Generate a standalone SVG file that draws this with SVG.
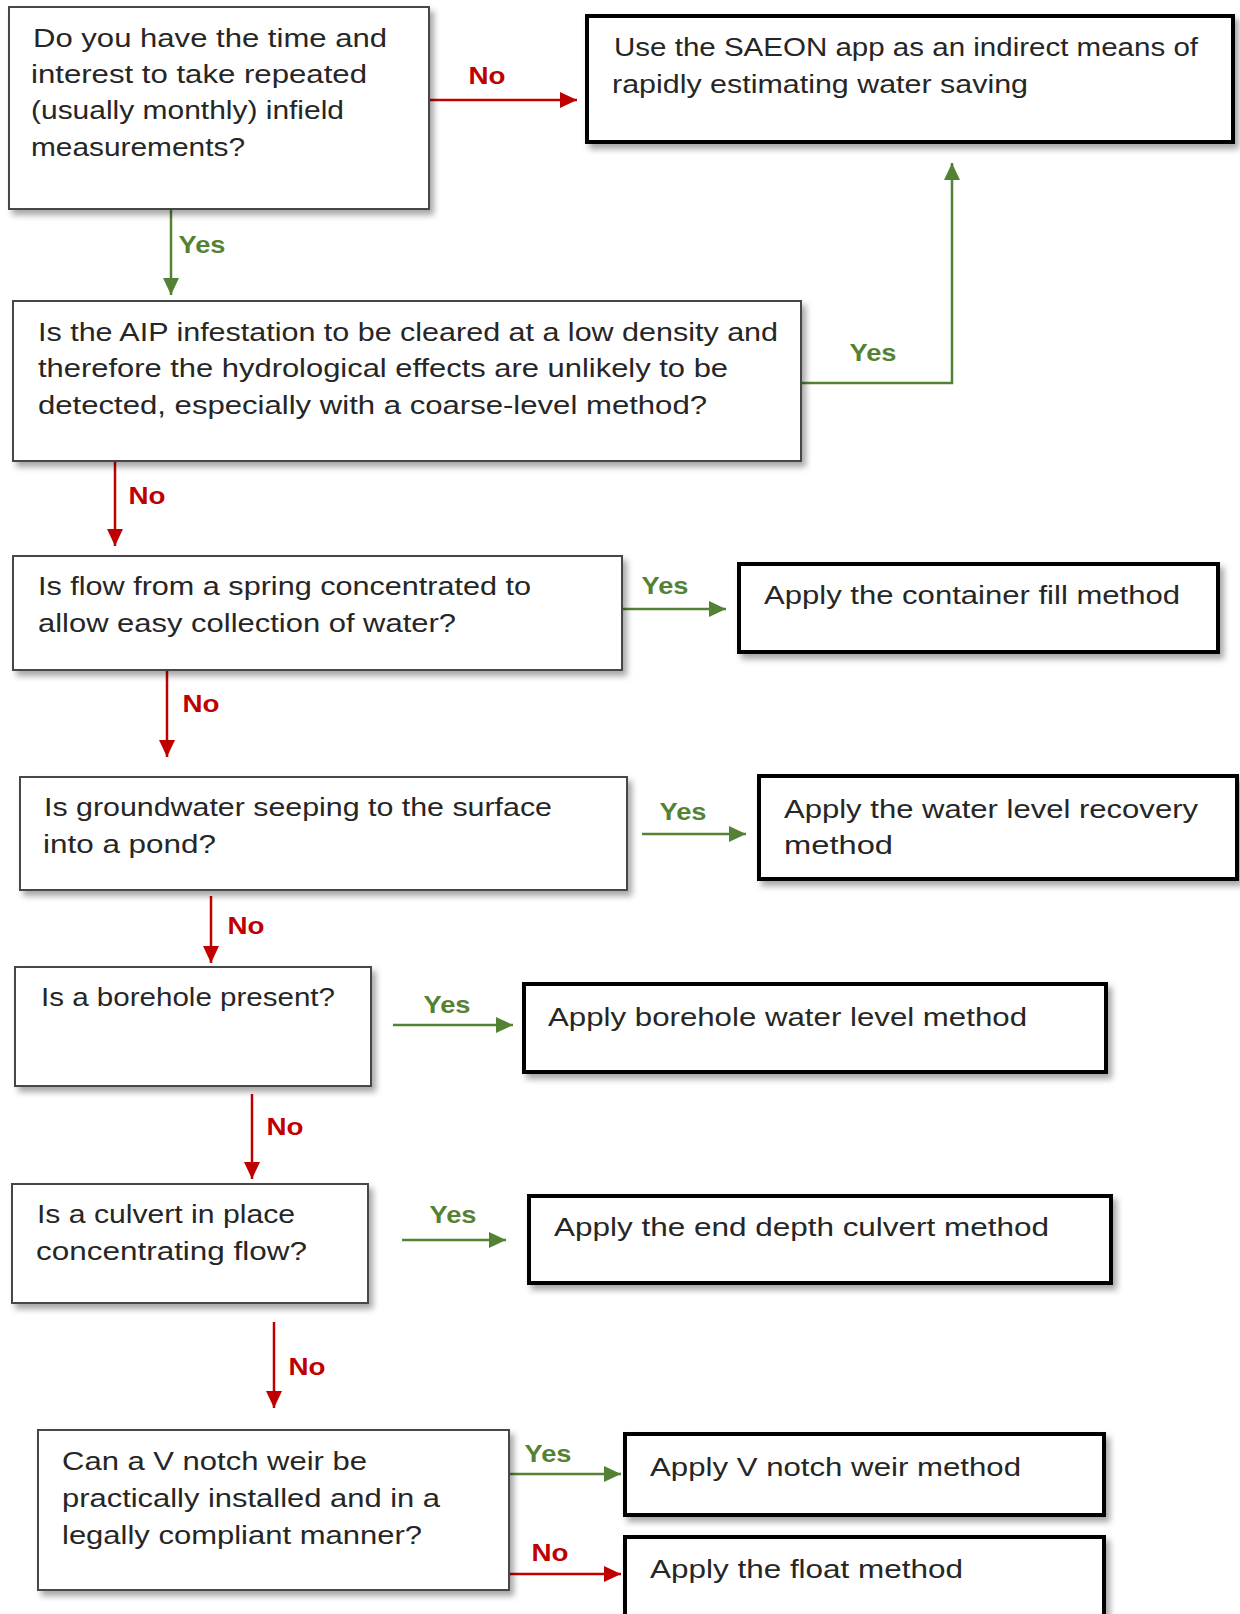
<svg xmlns="http://www.w3.org/2000/svg" width="1240" height="1614" viewBox="0 0 1240 1614">
<style>
.q{fill:#fff;stroke:#474747;stroke-width:2}
.a{fill:#fff;stroke:#000;stroke-width:4}
.t{font-family:"Liberation Sans","DejaVu Sans",sans-serif;font-size:25px;fill:#262626}
.g{stroke:#548235;stroke-width:2.5;fill:none}
.r{stroke:#C00000;stroke-width:2.5;fill:none}
.lg{font-family:"Liberation Sans","DejaVu Sans",sans-serif;font-size:24px;font-weight:bold;fill:#548235;text-anchor:middle}
.lr{font-family:"Liberation Sans","DejaVu Sans",sans-serif;font-size:24px;font-weight:bold;fill:#C00000;text-anchor:middle}
</style>
<defs>
<filter id="sh" x="-10%" y="-10%" width="130%" height="140%">
<feDropShadow dx="4" dy="5" stdDeviation="3" flood-color="#000" flood-opacity="0.35"/>
</filter>
<marker id="ag" markerUnits="userSpaceOnUse" markerWidth="18" markerHeight="16" refX="17" refY="8" orient="auto"><path d="M0,0 L17,8 L0,16 z" fill="#548235"/></marker>
<marker id="ar" markerUnits="userSpaceOnUse" markerWidth="18" markerHeight="16" refX="17" refY="8" orient="auto"><path d="M0,0 L17,8 L0,16 z" fill="#C00000"/></marker>
</defs>
<rect width="1240" height="1614" fill="#fff"/>

<g id="connectors">
<line class="r" x1="429" y1="100" x2="577" y2="100" marker-end="url(#ar)"/>
<text class="lr" x="487" y="84" textLength="37" lengthAdjust="spacingAndGlyphs">No</text>
<line class="g" x1="171" y1="209" x2="171" y2="295" marker-end="url(#ag)"/>
<text class="lg" x="202" y="253" textLength="47" lengthAdjust="spacingAndGlyphs">Yes</text>
<polyline class="g" points="801,383 952,383 952,163" marker-end="url(#ag)"/>
<text class="lg" x="873" y="361" textLength="47" lengthAdjust="spacingAndGlyphs">Yes</text>
<line class="r" x1="115" y1="461" x2="115" y2="546" marker-end="url(#ar)"/>
<text class="lr" x="147" y="504" textLength="37" lengthAdjust="spacingAndGlyphs">No</text>
<line class="g" x1="622" y1="609" x2="726" y2="609" marker-end="url(#ag)"/>
<text class="lg" x="665" y="594" textLength="47" lengthAdjust="spacingAndGlyphs">Yes</text>
<line class="r" x1="167" y1="670" x2="167" y2="757" marker-end="url(#ar)"/>
<text class="lr" x="201" y="712" textLength="37" lengthAdjust="spacingAndGlyphs">No</text>
<line class="g" x1="642" y1="834" x2="746" y2="834" marker-end="url(#ag)"/>
<text class="lg" x="683" y="820" textLength="47" lengthAdjust="spacingAndGlyphs">Yes</text>
<line class="r" x1="211" y1="896" x2="211" y2="963" marker-end="url(#ar)"/>
<text class="lr" x="246" y="934" textLength="37" lengthAdjust="spacingAndGlyphs">No</text>
<line class="g" x1="393" y1="1025" x2="513" y2="1025" marker-end="url(#ag)"/>
<text class="lg" x="447" y="1013" textLength="47" lengthAdjust="spacingAndGlyphs">Yes</text>
<line class="r" x1="252" y1="1094" x2="252" y2="1179" marker-end="url(#ar)"/>
<text class="lr" x="285" y="1135" textLength="37" lengthAdjust="spacingAndGlyphs">No</text>
<line class="g" x1="402" y1="1240" x2="506" y2="1240" marker-end="url(#ag)"/>
<text class="lg" x="453" y="1223" textLength="47" lengthAdjust="spacingAndGlyphs">Yes</text>
<line class="r" x1="274" y1="1322" x2="274" y2="1408" marker-end="url(#ar)"/>
<text class="lr" x="307" y="1375" textLength="37" lengthAdjust="spacingAndGlyphs">No</text>
<line class="g" x1="509" y1="1474" x2="621" y2="1474" marker-end="url(#ag)"/>
<text class="lg" x="548" y="1462" textLength="47" lengthAdjust="spacingAndGlyphs">Yes</text>
<line class="r" x1="509" y1="1574" x2="621" y2="1574" marker-end="url(#ar)"/>
<text class="lr" x="550" y="1561" textLength="37" lengthAdjust="spacingAndGlyphs">No</text>
</g>

<g id="q1">
<rect class="q" x="9" y="7" width="420" height="202" filter="url(#sh)"/>
<text class="t" x="33" y="47" textLength="354" lengthAdjust="spacingAndGlyphs">Do you have the time and</text>
<text class="t" x="31" y="83" textLength="336" lengthAdjust="spacingAndGlyphs">interest to take repeated</text>
<text class="t" x="31" y="119" textLength="313" lengthAdjust="spacingAndGlyphs">(usually monthly) infield</text>
<text class="t" x="31" y="156" textLength="214" lengthAdjust="spacingAndGlyphs">measurements?</text>
</g>

<g id="a1">
<rect class="a" x="587" y="16" width="646" height="126" filter="url(#sh)"/>
<text class="t" x="614" y="56" textLength="584" lengthAdjust="spacingAndGlyphs">Use the SAEON app as an indirect means of</text>
<text class="t" x="612" y="93" textLength="416" lengthAdjust="spacingAndGlyphs">rapidly estimating water saving</text>
</g>

<g id="q2">
<rect class="q" x="13" y="301" width="788" height="160" filter="url(#sh)"/>
<text class="t" x="38" y="341" textLength="740" lengthAdjust="spacingAndGlyphs">Is the AIP infestation to be cleared at a low density and</text>
<text class="t" x="38" y="377" textLength="690" lengthAdjust="spacingAndGlyphs">therefore the hydrological effects are unlikely to be</text>
<text class="t" x="38" y="414" textLength="669" lengthAdjust="spacingAndGlyphs">detected, especially with a coarse-level method?</text>
</g>

<g id="q3">
<rect class="q" x="13" y="556" width="609" height="114" filter="url(#sh)"/>
<text class="t" x="38" y="595" textLength="493" lengthAdjust="spacingAndGlyphs">Is flow from a spring concentrated to</text>
<text class="t" x="38" y="632" textLength="418" lengthAdjust="spacingAndGlyphs">allow easy collection of water?</text>
</g>

<g id="a2">
<rect class="a" x="739" y="564" width="479" height="88" filter="url(#sh)"/>
<text class="t" x="764" y="604" textLength="416" lengthAdjust="spacingAndGlyphs">Apply the container fill method</text>
</g>

<g id="q4">
<rect class="q" x="20" y="777" width="607" height="113" filter="url(#sh)"/>
<text class="t" x="44" y="816" textLength="508" lengthAdjust="spacingAndGlyphs">Is groundwater seeping to the surface</text>
<text class="t" x="43" y="853" textLength="173" lengthAdjust="spacingAndGlyphs">into a pond?</text>
</g>

<g id="a3">
<rect class="a" x="759" y="776" width="478" height="103" filter="url(#sh)"/>
<text class="t" x="784" y="818" textLength="414" lengthAdjust="spacingAndGlyphs">Apply the water level recovery</text>
<text class="t" x="784" y="854" textLength="109" lengthAdjust="spacingAndGlyphs">method</text>
</g>

<g id="q5">
<rect class="q" x="15" y="967" width="356" height="119" filter="url(#sh)"/>
<text class="t" x="41" y="1006" textLength="294" lengthAdjust="spacingAndGlyphs">Is a borehole present?</text>
</g>

<g id="a4">
<rect class="a" x="524" y="984" width="582" height="88" filter="url(#sh)"/>
<text class="t" x="548" y="1026" textLength="479" lengthAdjust="spacingAndGlyphs">Apply borehole water level method</text>
</g>

<g id="q6">
<rect class="q" x="12" y="1184" width="356" height="119" filter="url(#sh)"/>
<text class="t" x="37" y="1223" textLength="258" lengthAdjust="spacingAndGlyphs">Is a culvert in place</text>
<text class="t" x="36" y="1260" textLength="271" lengthAdjust="spacingAndGlyphs">concentrating flow?</text>
</g>

<g id="a5">
<rect class="a" x="529" y="1196" width="582" height="87" filter="url(#sh)"/>
<text class="t" x="554" y="1236" textLength="495" lengthAdjust="spacingAndGlyphs">Apply the end depth culvert method</text>
</g>

<g id="q7">
<rect class="q" x="38" y="1430" width="471" height="160" filter="url(#sh)"/>
<text class="t" x="62" y="1470" textLength="305" lengthAdjust="spacingAndGlyphs">Can a V notch weir be</text>
<text class="t" x="62" y="1507" textLength="378" lengthAdjust="spacingAndGlyphs">practically installed and in a</text>
<text class="t" x="62" y="1544" textLength="360" lengthAdjust="spacingAndGlyphs">legally compliant manner?</text>
</g>

<g id="a6">
<rect class="a" x="625" y="1434" width="479" height="81" filter="url(#sh)"/>
<text class="t" x="650" y="1476" textLength="371" lengthAdjust="spacingAndGlyphs">Apply V notch weir method</text>
</g>

<g id="a7">
<rect class="a" x="625" y="1537" width="479" height="80" filter="url(#sh)"/>
<text class="t" x="650" y="1578" textLength="313" lengthAdjust="spacingAndGlyphs">Apply the float method</text>
</g>
</svg>
